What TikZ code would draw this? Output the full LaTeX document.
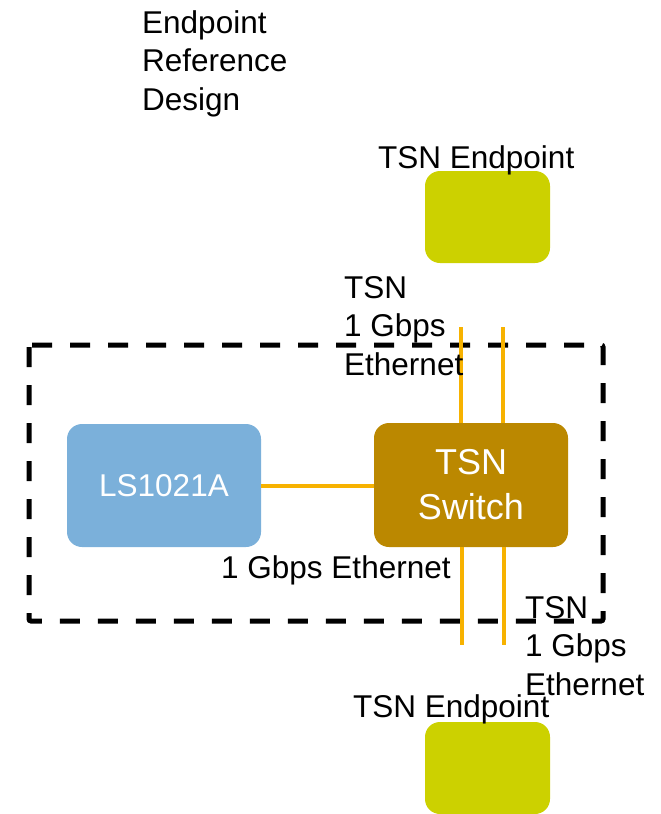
\documentclass[tikz,border=0pt]{standalone}
\usepackage{fontspec}
\setmainfont{Liberation Sans}
\definecolor{epgreen}{RGB}{204,209,0}
\definecolor{lsblue}{RGB}{123,176,218}
\definecolor{swgold}{RGB}{187,136,0}
\definecolor{linkorange}{RGB}{247,178,0}
\begin{document}
\begin{tikzpicture}[x=1pt,y=-1pt,
    box/.style={rounded corners=15pt, minimum width=125pt, minimum height=92pt, inner sep=0pt},
    link/.style={linkorange, line width=4pt},
    lbl/.style={inner sep=0pt, align=left, font=\fontsize{31.5}{38.5}\selectfont}]
  \useasboundingbox (0,0) rectangle (661,814);
  \draw[line width=5pt, dash pattern=on 20pt off 18pt, rounded corners=2pt] (29,345) rectangle (603,621);
  \node[box, fill=epgreen] (eptop) at (487.5,217) {};
  \node[box, fill=epgreen] (epbot) at (487.5,768) {};
  \node[box, fill=lsblue, minimum width=194pt, minimum height=123pt, text=white,
        font=\fontsize{31.5}{38.5}\selectfont] (ls) at (164,485.5) {LS1021A};
  \node[box, fill=swgold, minimum width=194pt, minimum height=124pt, text=white, align=center,
        font=\fontsize{36}{45}\selectfont] (sw) at (471,485) {TSN\\Switch};
  \draw[link] (ls.east) -- (ls.east -| sw.west);
  \foreach \x/\n in {461/a,503/b}{
      \coordinate (up\n) at (\x,327);
      \coordinate (dn\n) at (\x+1,645);
      \draw[link] (up\n) -- (up\n |- sw.north);
      \draw[link] (dn\n |- sw.south) -- (dn\n);
  }
  \node[lbl, anchor=base west] (title) at (142,110) {Endpoint\\Reference\\Design};
  \node[lbl, anchor=base west] (eptoplbl) at (378,168) {TSN Endpoint};
  \node[lbl, anchor=base west] (uplbl) at (344,375) {TSN\\1 Gbps\\Ethernet};
  \node[lbl, anchor=base west] (lslbl) at (221,578) {1 Gbps Ethernet};
  \node[lbl, anchor=base west] (dnlbl) at (525,695) {TSN\\1 Gbps\\Ethernet};
  \node[lbl, anchor=base west] (epbotlbl) at (353,717) {TSN Endpoint};
\end{tikzpicture}
\end{document}
